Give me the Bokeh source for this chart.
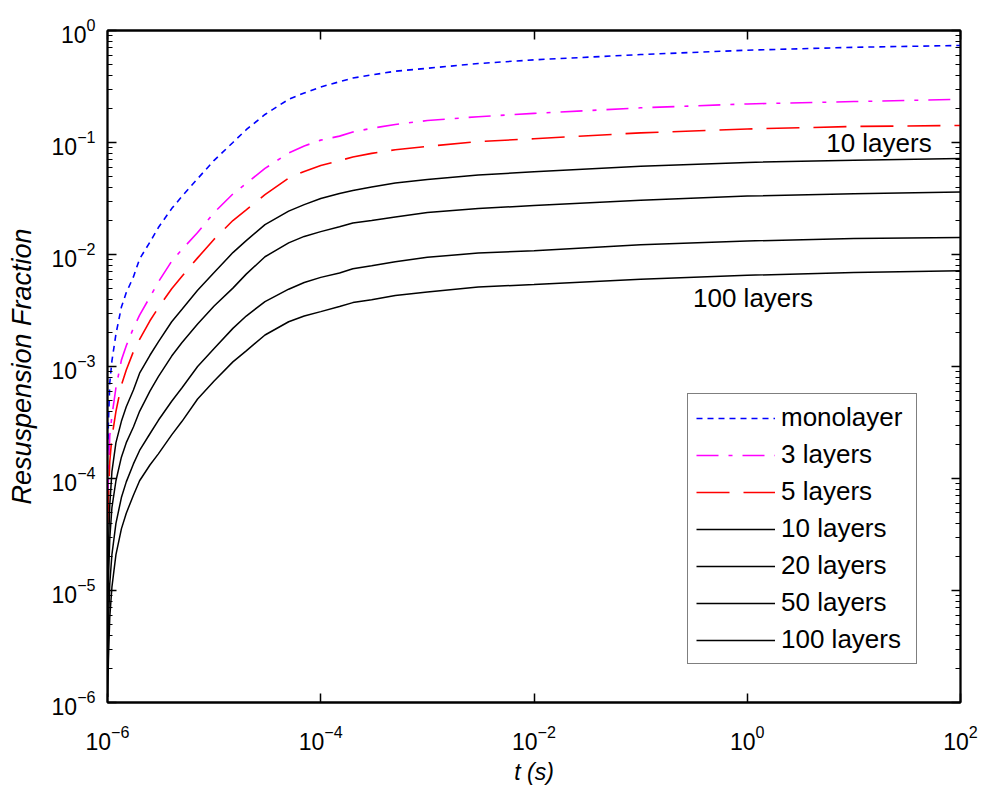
from bokeh.plotting import figure
from bokeh.models import LogAxis, FixedTicker, Legend, LegendItem, Label, CustomJSTickFormatter
from bokeh.embed import file_html
from bokeh.resources import INLINE

# time samples (s)
t = [1.005e-6, 1.02e-6, 1.05e-6, 1.1e-6, 1.2e-6, 1.35e-6, 1.5e-6, 1.75e-6, 2e-6, 2.5e-6,
     3e-6, 4e-6, 5e-6, 7e-6, 1e-5, 1.5e-5, 2e-5, 3e-5, 5e-5, 7e-5, 1e-4, 1.5e-4,
     2e-4, 3e-4, 5e-4, 1e-3, 3e-3, 1e-2, 1e-1, 1.0, 10.0, 100.0]

f_mono = [1.78e-4, 3.16e-4, 7.08e-4, 1.12e-3, 1.95e-3, 3.39e-3, 4.57e-3, 6.31e-3, 9.12e-3, 1.29e-2,
          1.74e-2, 2.57e-2, 3.31e-2, 4.75e-2, 6.93e-2, 0.100, 0.130, 0.178, 0.243, 0.277, 0.313, 0.349,
          0.376, 0.401, 0.433, 0.460, 0.507, 0.547, 0.610, 0.667, 0.708, 0.735]
f_3 = [6.31e-5, 1.00e-4, 2.40e-4, 3.63e-4, 6.46e-4, 1.14e-3, 1.53e-3, 2.20e-3, 2.88e-3, 4.17e-3,
       5.69e-3, 8.71e-3, 1.11e-2, 1.57e-2, 2.37e-2, 3.47e-2, 4.31e-2, 5.87e-2, 8.07e-2, 9.31e-2, 0.105, 0.114,
       0.124, 0.134, 0.145, 0.157, 0.170, 0.182, 0.204, 0.221, 0.232, 0.243]
f_5 = [3.98e-5, 6.31e-5, 1.41e-4, 2.34e-4, 3.98e-4, 6.84e-4, 9.29e-4, 1.36e-3, 1.75e-3, 2.56e-3,
       3.35e-3, 4.94e-3, 6.40e-3, 9.33e-3, 1.37e-2, 2.01e-2, 2.50e-2, 3.42e-2, 4.81e-2, 5.52e-2, 6.24e-2, 6.89e-2,
       7.41e-2, 8.00e-2, 8.61e-2, 9.23e-2, 0.102, 0.108, 0.122, 0.132, 0.139, 0.142]
f_10 = [1.12e-5, 2.40e-5, 5.75e-5, 1.15e-4, 2.09e-4, 3.24e-4, 4.37e-4, 6.17e-4, 8.71e-4, 1.26e-3,
        1.66e-3, 2.51e-3, 3.24e-3, 4.79e-3, 6.92e-3, 1.04e-2, 1.33e-2, 1.85e-2, 2.44e-2, 2.79e-2, 3.16e-2, 3.51e-2,
        3.73e-2, 4.00e-2, 4.34e-2, 4.68e-2, 5.13e-2, 5.47e-2, 6.15e-2, 6.64e-2, 6.95e-2, 7.18e-2]
f_20 = [5.62e-6, 1.20e-5, 2.88e-5, 5.50e-5, 9.55e-5, 1.55e-4, 2.09e-4, 2.88e-4, 3.98e-4, 6.03e-4,
        8.13e-4, 1.24e-3, 1.64e-3, 2.40e-3, 3.47e-3, 5.01e-3, 6.68e-3, 9.55e-3, 1.27e-2, 1.45e-2, 1.60e-2, 1.77e-2,
        1.91e-2, 2.01e-2, 2.16e-2, 2.37e-2, 2.57e-2, 2.74e-2, 3.05e-2, 3.33e-2, 3.48e-2, 3.62e-2]
f_50 = [2.24e-6, 4.79e-6, 1.15e-5, 2.09e-5, 3.98e-5, 6.76e-5, 9.33e-5, 1.35e-4, 1.78e-4, 2.51e-4,
        3.31e-4, 4.90e-4, 6.46e-4, 1.00e-3, 1.45e-3, 2.19e-3, 2.82e-3, 3.80e-3, 4.90e-3, 5.62e-3, 6.25e-3, 6.84e-3,
        7.45e-3, 7.94e-3, 8.63e-3, 9.44e-3, 1.03e-2, 1.08e-2, 1.22e-2, 1.32e-2, 1.39e-2, 1.42e-2]
f_100 = [1.12e-6, 2.40e-6, 5.75e-6, 1.07e-5, 2.09e-5, 3.55e-5, 4.90e-5, 7.08e-5, 9.55e-5, 1.32e-4,
         1.66e-4, 2.45e-4, 3.24e-4, 5.13e-4, 7.41e-4, 1.10e-3, 1.38e-3, 1.91e-3, 2.51e-3, 2.82e-3, 3.09e-3, 3.43e-3,
         3.72e-3, 3.95e-3, 4.30e-3, 4.62e-3, 5.13e-3, 5.40e-3, 6.00e-3, 6.52e-3, 6.92e-3, 7.16e-3]

series_labels = ["monolayer", "3 layers", "5 layers", "10 layers", "20 layers", "50 layers", "100 layers"]
x_ticks = [1e-6, 1e-4, 1e-2, 1e0, 1e2]
y_ticks = [1e-6, 1e-5, 1e-4, 1e-3, 1e-2, 1e-1, 1e0]

FONT = "Liberation Sans"

p = figure(width=983, height=787, x_axis_type="log", y_axis_type="log",
           x_range=(1e-6, 1e2), y_range=(1e-6, 1.0),
           output_backend="svg", toolbar_location=None,
           min_border_left=107, min_border_right=23, min_border_top=30, min_border_bottom=84)
p.grid.visible = False
p.outline_line_color = "black"
p.outline_line_width = 1.8
p.background_fill_color = "white"
p.border_fill_color = "white"

y_minor = [m * d for d in y_ticks[:-1] for m in range(2, 10)]

def style_axis(ax):
    ax.axis_line_color = "black"
    ax.axis_line_width = 1.8
    ax.major_tick_in = 9
    ax.major_tick_out = 0
    ax.minor_tick_in = 5
    ax.minor_tick_out = 0
    ax.major_tick_line_color = "black"
    ax.minor_tick_line_color = "black"
    ax.major_tick_line_width = 1.5
    ax.minor_tick_line_width = 1.2
    ax.major_label_text_font = FONT
    ax.major_label_text_font_size = "23px"
    ax.major_label_text_color = "black"

xa = p.xaxis[0]
xa.ticker = FixedTicker(ticks=x_ticks, minor_ticks=[])
style_axis(xa)
xa.major_label_standoff = 22
xa.axis_label = "t (s)"
xa.axis_label_text_font = FONT
xa.axis_label_text_font_style = "italic"
xa.axis_label_text_font_size = "23px"
xa.axis_label_text_color = "black"
xa.axis_label_standoff = 6

ya = p.yaxis[0]
ya.ticker = FixedTicker(ticks=y_ticks, minor_ticks=y_minor)
style_axis(ya)
ya.major_label_standoff = 12
ya.axis_label = "Resuspension Fraction"
ya.axis_label_text_font = FONT
ya.axis_label_text_font_style = "italic"
ya.axis_label_text_font_size = "27px"
ya.axis_label_text_color = "black"
ya.axis_label_standoff = 12

top = LogAxis(ticker=FixedTicker(ticks=x_ticks, minor_ticks=[]),
              formatter=CustomJSTickFormatter(code="return '';"))
style_axis(top)
p.add_layout(top, "above")
right = LogAxis(ticker=FixedTicker(ticks=y_ticks, minor_ticks=y_minor),
                formatter=CustomJSTickFormatter(code="return '';"))
style_axis(right)
p.add_layout(right, "right")

r1 = p.line(t, f_mono, line_color="#0000ff", line_width=1.6, line_dash="6 5")
r2 = p.line(t, f_3, line_color="#ff00ff", line_width=1.6, line_dash="22 10 4 10")
r3 = p.line(t, f_5, line_color="#ff0000", line_width=1.6, line_dash="33 14")
r4 = p.line(t, f_10, line_color="black", line_width=1.5)
r5 = p.line(t, f_20, line_color="black", line_width=1.5)
r6 = p.line(t, f_50, line_color="black", line_width=1.5)
r7 = p.line(t, f_100, line_color="black", line_width=1.5)

rends = [r1, r2, r3, r4, r5, r6, r7]
legend = Legend(items=[LegendItem(label=lab, renderers=[r]) for lab, r in zip(series_labels, rends)],
                location=(580, 38), orientation="vertical")
legend.label_text_font = FONT
legend.label_text_font_size = "26px"
legend.label_text_color = "black"
legend.glyph_width = 79
legend.glyph_height = 30
legend.label_height = 30
legend.label_width = 127
legend.label_standoff = 6
legend.spacing = 6
legend.padding = 8
legend.margin = 0
legend.border_line_color = "black"
legend.border_line_width = 1.5
legend.background_fill_alpha = 1.0
p.add_layout(legend)

p.add_layout(Label(x=5.5, y=0.098, text="10 layers", text_font=FONT, text_font_size="26px",
                   text_baseline="middle", text_color="black"))
p.add_layout(Label(x=0.31, y=4.1e-3, text="100 layers", text_font=FONT, text_font_size="26px",
                   text_baseline="middle", text_color="black"))

open("out.html", "w").write(file_html(p, INLINE))
